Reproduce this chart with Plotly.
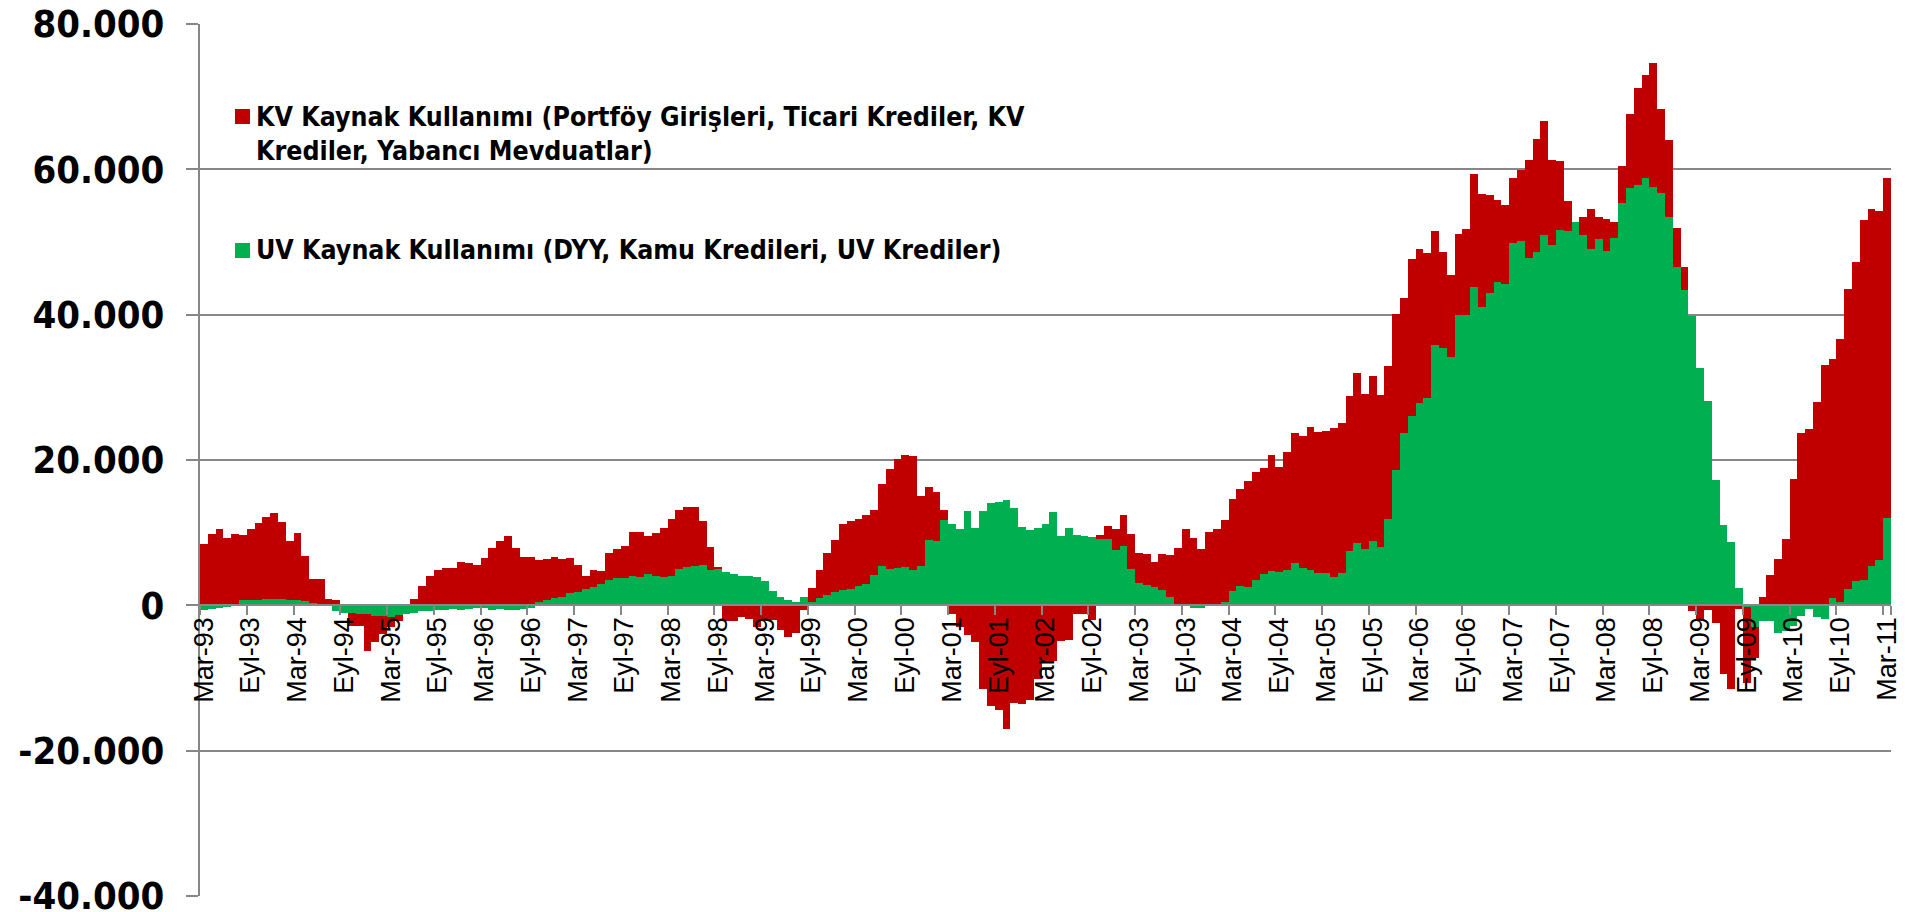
import plotly.graph_objects as go

# ---------------- data (values in thousands, as drawn; axis shows 20.000 steps) -------------
MONTH_ABBR = ["Oca", "Şub", "Mar", "Nis", "May", "Haz", "Tem", "Ağu", "Eyl", "Eki", "Kas", "Ara"]
START_YEAR = 1993
START_MONTH = 3
N_MONTHS = 217
categories = []
for k in range(N_MONTHS):
    m = START_MONTH - 1 + k
    categories.append(f"{MONTH_ABBR[m % 12]}-{(START_YEAR + m // 12) % 100:02d}")

# UV Kaynak Kullanımı (green), Mar-93 .. Mar-11
UV = [
    -0.6, -0.45, -0.3, -0.15, -0.05, 0.75, 0.7, 0.8, 0.85, 0.9, 0.85, 0.8,
    0.7, 0.55, 0.35, 0.2, 0.1, -0.8, -1.0, -1.05, -1.15, -1.25, -1.4, -1.4,
    -1.6, -1.3, -1.15, -1.0, -0.8, -0.75, -0.7, -0.7, -0.55, -0.7, -0.45, -0.3,
    -0.3, -0.7, -0.55, -0.6, -0.7, -0.45, -0.3, 0.45, 0.8, 0.95, 1.2, 1.65,
    1.85, 2.2, 2.5, 2.9, 3.55, 3.7, 3.8, 4.1, 3.9, 4.25, 4.1, 3.85,
    4.0, 4.95, 5.25, 5.4, 5.5, 4.8, 5.05, 4.55, 4.3, 4.0, 4.1, 3.85,
    3.4, 1.95, 1.1, 0.7, 0.5, 1.1, 0.4, 1.05, 1.4, 1.8, 2.15, 2.2,
    2.7, 3.0, 4.2, 5.45, 5.0, 5.15, 5.25, 4.8, 5.45, 8.95, 8.85, 11.8,
    11.15, 10.45, 13.05, 10.6, 12.95, 14.1, 14.2, 14.55, 13.4, 10.8, 10.3, 10.65,
    11.25, 12.8, 9.6, 10.7, 9.7, 9.55, 9.4, 9.1, 9.1, 7.55, 8.2, 5.0,
    3.05, 2.75, 2.5, 2.15, 1.15, 0.1, 0.0, -0.3, -0.3, 0.05, 0.05, 0.45,
    1.95, 2.6, 2.5, 3.45, 4.35, 4.75, 4.65, 4.9, 5.85, 5.15, 4.8, 4.4,
    4.5, 3.95, 4.4, 7.45, 8.6, 7.7, 8.8, 8.0, 11.95, 18.6, 23.7, 26.0,
    27.9, 28.6, 35.8, 35.45, 34.15, 39.9, 40.0, 43.8, 41.0, 43.0, 44.55, 44.25,
    49.85, 50.1, 47.8, 48.6, 50.9, 49.6, 51.7, 51.5, 52.8, 51.0, 49.0, 50.4,
    48.8, 50.6, 55.4, 57.4, 57.9, 58.8, 57.6, 56.7, 53.4, 46.5, 43.4, 39.85,
    32.6, 28.1, 17.2, 11.1, 8.75, 2.4, -0.2, -3.0, -2.2, -2.2, -3.8, -3.5,
    -2.9, -1.45, -0.45, -1.55, -1.85, 1.05, 0.4, 2.3, 3.3, 3.5, 5.35, 6.2,
    12.0,
]

# KV Kaynak Kullanımı (red), Mar-93 .. Mar-11
KV = [
    8.4, 9.8, 10.5, 9.2, 9.8, 8.95, 9.85, 10.5, 11.25, 11.85, 10.65, 8.05,
    9.2, 6.25, 3.25, 3.4, 0.8, 0.8, 0.0, -1.85, -1.75, -5.05, -3.7, -2.6,
    -1.4, -0.8, 0.0, 0.9, 2.65, 4.1, 4.9, 5.1, 5.2, 6.0, 5.8, 5.6,
    6.5, 7.9, 8.9, 9.6, 7.9, 6.7, 6.6, 5.85, 5.6, 5.65, 5.2, 4.8,
    3.75, 1.9, 2.3, 1.8, 3.7, 4.05, 4.3, 6.0, 6.15, 5.35, 5.8, 6.8,
    7.85, 8.15, 8.35, 8.2, 6.1, 3.2, 0.15, -2.15, -2.15, -1.65, -1.85, -3.0,
    -2.05, -2.05, -3.35, -4.35, -3.75, -0.7, 2.05, 3.8, 5.8, 7.2, 9.1, 9.45,
    9.2, 9.5, 8.95, 11.3, 13.8, 15.05, 15.45, 15.75, 9.55, 7.35, 6.75, 1.35,
    -1.15, -3.0, -4.1, -5.0, -11.5, -13.85, -14.45, -17.0, -13.4, -13.6, -13.0, -10.1,
    -7.6, -7.6, -4.9, -4.8, -1.15, -1.15, -2.05, 0.55, 1.8, 2.9, 4.3, 4.85,
    4.1, 4.35, 3.4, 4.95, 5.75, 7.75, 10.55, 9.25, 7.75, 10.0, 10.5, 11.35,
    12.75, 13.4, 14.55, 14.95, 14.6, 15.9, 14.4, 16.2, 17.85, 18.15, 19.7, 19.45,
    19.5, 20.5, 20.7, 21.4, 23.4, 21.35, 22.8, 20.95, 21.05, 21.5, 18.55, 21.6,
    21.2, 19.95, 15.7, 13.15, 11.3, 11.25, 11.75, 15.5, 15.65, 13.5, 11.25, 10.9,
    8.9, 9.75, 13.55, 15.6, 15.7, 11.7, 9.4, 4.1, 0.0, 2.5, 5.6, 3.1,
    4.3, 2.2, 5.1, 10.2, 13.3, 14.2, 17.0, 11.6, 10.6, 5.4, 3.2, -0.75,
    -2.0, -0.6, -2.4, -9.4, -11.5, -0.45, -10.5, -4.2, 1.15, 4.2, 6.4, 9.15,
    17.4, 23.75, 24.3, 28.0, 33.05, 32.85, 36.2, 41.3, 43.95, 49.5, 49.25, 48.1,
    46.85,
]

TICK_LABELS = categories[::6]
Y_TICK_VALUES = [-40, -20, 0, 20, 40, 60, 80]
Y_TICK_TEXT = ["-40.000", "-20.000", "0", "20.000", "40.000", "60.000", "80.000"]

NAME_KV = "KV Kaynak Kullanımı (Portföy Girişleri, Ticari Krediler, KV<br>Krediler, Yabancı Mevduatlar)"
NAME_UV = "UV Kaynak Kullanımı (DYY, Kamu Kredileri, UV Krediler)"

RED = "#C00000"
GREEN = "#00B050"
GRID = "#878787"
BOLD_FONT = "DejaVu Sans Condensed, DejaVu Sans, Verdana, sans-serif"

# ---------------- figure -------------
W, H = 1905, 912
ML, MR, MT, MB = 200, 14, 24, 16
PW, PH = W - ML - MR, H - MT - MB


def px_x(px):
    return (px - ML) / PW


def px_y(py):
    return (H - MB - py) / PH


fig = go.Figure()
fig.add_trace(go.Bar(x=categories, y=UV, name=NAME_UV, marker=dict(color=GREEN, line=dict(width=0)),
                     showlegend=False))
fig.add_trace(go.Bar(x=categories, y=KV, name=NAME_KV, marker=dict(color=RED, line=dict(width=0)),
                     showlegend=False))

fig.update_layout(
    width=W, height=H,
    margin=dict(l=ML, r=MR, t=MT, b=MB, autoexpand=False),
    paper_bgcolor="white", plot_bgcolor="white",
    barmode="relative", bargap=0,
    xaxis=dict(
        type="category", range=[-0.5, N_MONTHS - 0.5], automargin=False,
        anchor="free", position=1 / 3,
        tickmode="array", tickvals=TICK_LABELS, ticktext=TICK_LABELS,
        tickson="boundaries", ticks="outside", ticklen=9, tickwidth=2, tickcolor=GRID,
        tickangle=-90,
        tickfont=dict(family="Liberation Sans, Arial, sans-serif", size=27, color="black"),
        showline=True, linecolor=GRID, linewidth=2,
        showgrid=False, zeroline=False,
    ),
    yaxis=dict(
        range=[-40, 80], tickmode="array", tickvals=Y_TICK_VALUES, ticktext=Y_TICK_TEXT,
        automargin=False, ticklabeloverflow="allow",
        showgrid=True, gridcolor=GRID, gridwidth=2,
        zeroline=True, zerolinecolor=GRID, zerolinewidth=2,
        ticks="outside", ticklen=12, tickwidth=2, tickcolor=GRID,
        showline=True, linecolor=GRID, linewidth=2,
        tickfont=dict(family=BOLD_FONT, size=38, color="black", weight="bold"),
        ticklabelstandoff=14,
    ),
)

# legend (drawn inside the plot, as in the original)
LEGEND_FONT = dict(family=BOLD_FONT, size=26.5, color="black")
fig.add_shape(type="rect", xref="paper", yref="paper",
              x0=px_x(235), x1=px_x(250), y0=px_y(124), y1=px_y(109),
              fillcolor=RED, line=dict(width=0))
fig.add_shape(type="rect", xref="paper", yref="paper",
              x0=px_x(235), x1=px_x(250), y0=px_y(258), y1=px_y(243),
              fillcolor=GREEN, line=dict(width=0))
fig.add_annotation(xref="paper", yref="paper", x=px_x(254), y=px_y(133),
                   xanchor="left", yanchor="middle", align="left", showarrow=False,
                   text="<b>" + NAME_KV + "</b>", font=LEGEND_FONT)
fig.add_annotation(xref="paper", yref="paper", x=px_x(254), y=px_y(250),
                   xanchor="left", yanchor="middle", align="left", showarrow=False,
                   text="<b>" + NAME_UV + "</b>", font=LEGEND_FONT)

fig.write_html(
    "out.html",
    config={"displayModeBar": False},
    post_script="document.body.style.margin='0';document.body.style.overflow='hidden';",
)
